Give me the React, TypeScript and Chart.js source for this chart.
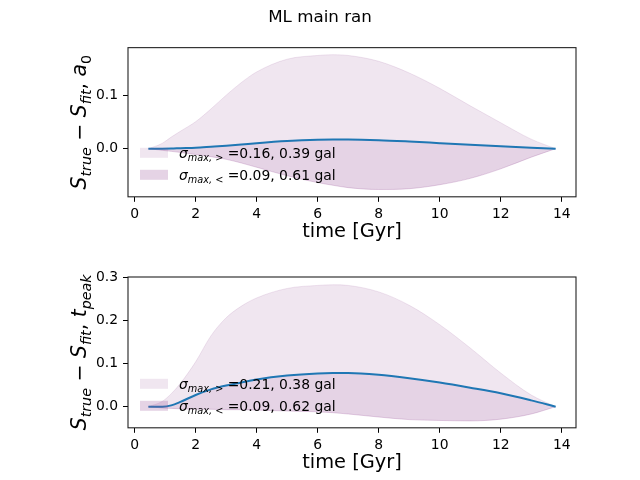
import React, { useEffect, useRef } from 'react';
import { Chart, registerables } from 'chart.js';

Chart.register(...registerables);
Chart.defaults.font.family = '"DejaVu Sans", sans-serif';
Chart.defaults.color = '#000';

// ---------- data ----------
const time = [0.45, 0.9, 1.2, 1.5, 2, 2.5, 3, 3.5, 4, 5, 6, 6.5, 7, 8, 9, 10, 11, 12, 13, 13.8];

const a0Line = [0, 0, 0.0003, 0.001, 0.002, 0.0038, 0.0057, 0.008, 0.0105, 0.0145, 0.0168, 0.0172, 0.0172, 0.016, 0.0135, 0.0105, 0.0075, 0.0045, 0.002, 0];
const a0Upper = [0, 0.01, 0.022, 0.033, 0.051, 0.075, 0.101, 0.125, 0.145, 0.169, 0.176, 0.1775, 0.176, 0.165, 0.143, 0.114, 0.081, 0.049, 0.018, 0];
const a0Lower = [0, -0.003, -0.005, -0.007, -0.011, -0.015, -0.02, -0.027, -0.035, -0.051, -0.064, -0.069, -0.0735, -0.077, -0.0755, -0.068, -0.056, -0.038, -0.016, 0];

const tpLine = [0, 0, 0.003, 0.011, 0.027, 0.04, 0.049, 0.056, 0.063, 0.072, 0.077, 0.078, 0.078, 0.074, 0.066, 0.056, 0.044, 0.031, 0.0145, 0];
const tpUpper = [0, 0.012, 0.03, 0.054, 0.104, 0.164, 0.206, 0.233, 0.252, 0.274, 0.281, 0.2825, 0.281, 0.266, 0.235, 0.19, 0.136, 0.078, 0.027, 0];
const tpLower = [0, -0.003, -0.004, -0.005, -0.006, -0.006, -0.007, -0.007, -0.008, -0.01, -0.012, -0.014, -0.017, -0.024, -0.03, -0.032, -0.033, -0.029, -0.017, 0];

const xTicks = [0, 2, 4, 6, 8, 10, 12, 14];
const a0Ticks = [0, 0.1];
const tpTicks = [0, 0.1, 0.2, 0.3];

const legendSubs = ['max, >', 'max, <'];
const a0LegendValues = ['0.16, 0.39', '0.09, 0.61'];
const tpLegendValues = ['0.21, 0.38', '0.09, 0.62'];

const suptitle = 'ML main ran';
const xLabel = 'time [Gyr]';

// ---------- style ----------
const LINE_COLOR = '#1f77b4';
const LIGHT = 'rgba(150, 80, 150, 0.14)';
const DARK = 'rgba(150, 80, 150, 0.25)';
const FAMILY = '"DejaVu Sans", sans-serif';
const TICK_SIZE = 13.9;
const LABEL_SIZE = 19.4;
const YLABEL_SIZE = 20.4;

type Seg = { t: string; it?: boolean; sub?: boolean };

const a0YLabel: Seg[] = [
  { t: 'S', it: true }, { t: 'true', it: true, sub: true }, { t: ' \u2212 ' },
  { t: 'S', it: true }, { t: 'fit', it: true, sub: true }, { t: ', ' },
  { t: 'a', it: true }, { t: '0', sub: true },
];
const tpYLabel: Seg[] = [
  { t: 'S', it: true }, { t: 'true', it: true, sub: true }, { t: ' \u2212 ' },
  { t: 'S', it: true }, { t: 'fit', it: true, sub: true }, { t: ', ' },
  { t: 't', it: true }, { t: 'peak', it: true, sub: true },
];

function drawSegs(ctx: CanvasRenderingContext2D, segs: Seg[], size: number, x: number, y: number, align: 'left' | 'center') {
  const fontOf = (s: Seg) => `${s.it ? 'italic ' : ''}${s.sub ? size * 0.7 : size}px ${FAMILY}`;
  const widths = segs.map((s) => { ctx.font = fontOf(s); return ctx.measureText(s.t).width; });
  const total = widths.reduce((a, b) => a + b, 0);
  let cx = align === 'center' ? x - total / 2 : x;
  ctx.textAlign = 'left';
  ctx.textBaseline = 'alphabetic';
  segs.forEach((s, i) => {
    ctx.font = fontOf(s);
    ctx.fillText(s.t, cx, y + (s.sub ? size * 0.25 : 0));
    cx += widths[i];
  });
}

function decorPlugin(yLabel: Seg[], legendValues: string[]) {
  return {
    id: 'decor',
    afterDraw(chart: any) {
      const ctx: CanvasRenderingContext2D = chart.ctx;
      const ca = chart.chartArea;
      ctx.save();
      // legend
      const colors = [LIGHT, DARK];
      legendValues.forEach((v, i) => {
        const cy = ca.bottom - 44 + i * 22;
        ctx.fillStyle = colors[i];
        ctx.fillRect(ca.left + 12, cy - 5, 28, 10);
        ctx.fillStyle = '#000';
        drawSegs(ctx, [{ t: '\u03c3', it: true }, { t: legendSubs[i], it: true, sub: true }, { t: ' =' + v + ' gal' }], TICK_SIZE, ca.left + 51, cy + 5, 'left');
      });
      // frame
      ctx.strokeStyle = '#222';
      ctx.lineWidth = 1.1;
      ctx.strokeRect(ca.left, ca.top, ca.right - ca.left, ca.bottom - ca.top);
      // y label
      ctx.translate(86, (ca.top + ca.bottom) / 2);
      ctx.rotate(-Math.PI / 2);
      ctx.fillStyle = '#000';
      drawSegs(ctx, yLabel, YLABEL_SIZE, 0, 0, 'center');
      ctx.restore();
    },
  };
}

const X_MIN = -0.2175;
const X_MAX = 14.4675;

function makeConfig(line: number[], upper: number[], lower: number[], yMin: number, yMax: number, yTicks: number[], isTop: boolean, yLabel: Seg[], legendValues: string[], bottomPad: number) {
  const pts = (arr: number[]) => arr.map((y, i) => ({ x: time[i], y }));
  const tickGrid = { display: true, drawOnChartArea: false, drawTicks: true, tickLength: 5, tickColor: '#000', tickWidth: 1 };
  return {
    type: 'line',
    data: {
      datasets: [
        { data: pts(line), borderColor: LINE_COLOR, borderWidth: 2, pointRadius: 0, fill: false, cubicInterpolationMode: 'monotone' },
        { data: pts(upper), borderColor: LIGHT, borderWidth: 1, backgroundColor: LIGHT, pointRadius: 0, fill: '-1', cubicInterpolationMode: 'monotone' },
        { data: pts(lower), borderColor: DARK, borderWidth: 1, backgroundColor: DARK, pointRadius: 0, fill: '-2', cubicInterpolationMode: 'monotone' },
      ],
    },
    options: {
      responsive: false,
      animation: false,
      events: [],
      layout: { padding: { top: isTop ? 0 : 32, bottom: bottomPad, left: 0, right: 0 } },
      plugins: {
        legend: { display: false },
        tooltip: { enabled: false },
        title: isTop
          ? { display: true, text: suptitle, color: '#000', font: { size: 16.7, weight: 'normal', lineHeight: 1.2 }, padding: { top: 7.3, bottom: 20.3 } }
          : { display: false },
      },
      scales: {
        x: {
          type: 'linear', min: X_MIN, max: X_MAX,
          afterBuildTicks: (s: any) => { s.ticks = xTicks.map((v) => ({ value: v })); },
          afterFit: (s: any) => { s.height = 46.6; },
          ticks: { font: { size: TICK_SIZE }, color: '#000', padding: 4, maxRotation: 0, autoSkip: false, callback: (v: any) => String(v) },
          grid: tickGrid,
          border: { display: false },
          title: { display: true, text: xLabel, color: '#000', font: { size: LABEL_SIZE, lineHeight: 1.2 }, padding: { top: 0, bottom: 0 } },
        },
        y: {
          type: 'linear', position: 'left', min: yMin, max: yMax,
          afterBuildTicks: (s: any) => { s.ticks = yTicks.map((v) => ({ value: v })); },
          afterFit: (s: any) => { s.width = 128; },
          ticks: { font: { size: TICK_SIZE }, color: '#000', padding: 5, callback: (v: any) => Number(v).toFixed(1) },
          grid: tickGrid,
          border: { display: false },
        },
        yr: {
          type: 'linear', position: 'right', display: true,
          afterFit: (s: any) => { s.width = 64; },
          ticks: { display: false },
          grid: { display: false },
          border: { display: false },
        },
      },
    },
    plugins: [decorPlugin(yLabel, legendValues)],
  };
}

export default function App() {
  const topRef = useRef<HTMLCanvasElement>(null);
  const botRef = useRef<HTMLCanvasElement>(null);

  useEffect(() => {
    const c1 = new Chart(topRef.current as HTMLCanvasElement, makeConfig(a0Line, a0Upper, a0Lower, -0.0908, 0.1908, a0Ticks, true, a0YLabel, a0LegendValues, 1.6) as any);
    const c2 = new Chart(botRef.current as HTMLCanvasElement, makeConfig(tpLine, tpUpper, tpLower, -0.049, 0.3005, tpTicks, false, tpYLabel, tpLegendValues, 5.6) as any);
    return () => { c1.destroy(); c2.destroy(); };
  }, []);

  return (
    <div style={{ position: 'fixed', left: 0, top: 0, width: 640, height: 480, background: '#fff' }}>
      <canvas ref={topRef} width={640} height={245} style={{ position: 'absolute', left: 0, top: 0, width: 640, height: 245 }} />
      <canvas ref={botRef} width={640} height={235} style={{ position: 'absolute', left: 0, top: 245, width: 640, height: 235 }} />
    </div>
  );
}
